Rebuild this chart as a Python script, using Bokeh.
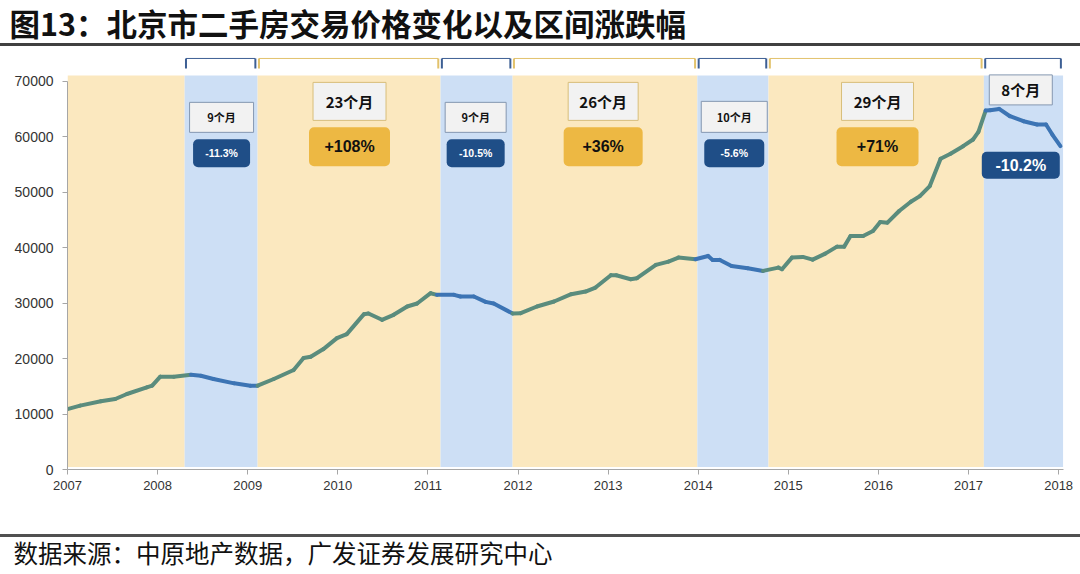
from bokeh.plotting import figure
from bokeh.models import Range1d, FixedTicker, BasicTickFormatter, Title
from bokeh.core.properties import value
from bokeh.embed import file_html
from bokeh.resources import INLINE

# ---------------- data ----------------
title_text = "图13：北京市二手房交易价格变化以及区间涨跌幅"
source_text = "数据来源：中原地产数据，广发证券发展研究中心"

dates = [2007.01, 2007.14, 2007.37, 2007.53, 2007.66, 2007.88, 2007.94,
         2008.03, 2008.18, 2008.37, 2008.48, 2008.62, 2008.85,
         2009.03, 2009.11, 2009.29, 2009.51, 2009.62, 2009.70, 2009.84, 2009.99,
         2010.10, 2010.29, 2010.34, 2010.49, 2010.62, 2010.77, 2010.88,
         2011.03, 2011.10, 2011.29, 2011.36, 2011.51, 2011.64, 2011.73, 2011.94,
         2012.03, 2012.21, 2012.40, 2012.59, 2012.75, 2012.86,
         2013.03, 2013.09, 2013.25, 2013.32, 2013.53, 2013.67, 2013.78, 2013.97,
         2014.11, 2014.16, 2014.24, 2014.37, 2014.55, 2014.72, 2014.89, 2014.93,
         2015.04, 2015.16, 2015.27, 2015.41, 2015.54, 2015.62, 2015.69, 2015.83, 2015.94,
         2016.02, 2016.10, 2016.23, 2016.36, 2016.46, 2016.57, 2016.69, 2016.80, 2016.94,
         2017.05, 2017.11, 2017.19, 2017.24, 2017.34, 2017.46, 2017.61, 2017.76, 2017.86, 2017.93,
         2018.02]

prices = [10930, 11520, 12300, 12720, 13620, 14820, 15120,
          16740, 16740, 17100, 16920, 16320, 15540,
          15120, 15120, 16320, 17940, 20100, 20340, 21720, 23700,
          24420, 28020, 28140, 27000, 27900, 29400, 29940,
          31800, 31500, 31500, 31200, 31200, 30240, 29940, 28140,
          28200, 29400, 30300, 31620, 32100, 32820,
          35040, 35040, 34320, 34500, 36900, 37500, 38220, 37920,
          38520, 37800, 37800, 36720, 36300, 35820, 36420, 36120,
          38220, 38340, 37860, 38940, 40200, 40200, 42120, 42120, 43020,
          44640, 44520, 46620, 48300, 49320, 51120, 56040, 56940, 58320,
          59520, 60900, 64740, 64800, 65040, 63720, 62820, 62220, 62220, 60420,
          58320]

band_start = [2007.00, 2008.30, 2009.11, 2011.14, 2011.94, 2013.99, 2014.78, 2017.17]
band_end = [2008.30, 2009.11, 2011.14, 2011.94, 2013.99, 2014.78, 2017.17, 2018.05]
band_kind = ["up", "down", "up", "down", "up", "down", "up", "down"]

period_labels = ["9个月", "23个月", "9个月", "26个月", "10个月", "29个月", "8个月"]
change_labels = ["-11.3%", "+108%", "-10.5%", "+36%", "-5.6%", "+71%", "-10.2%"]

year_ticks = list(range(2007, 2019))
price_ticks = list(range(0, 70001, 10000))

# ---------------- style / layout ----------------
W, H = 1080, 574
FRAME_TOP = 45                      # px from top of canvas
FRAME_BOTTOM = 469
PX = 179.95                         # price units per pixel
Y_TOP = (FRAME_BOTTOM - FRAME_TOP) * PX

YELLOW_BAND = "#FBE8BF"
BLUE_BAND = "#CDDFF5"
LINE_UP = "#5A8C7D"
LINE_DOWN = "#3C74B4"
BOX_BLUE = "#1F4E87"
BOX_GOLD = "#EDB843"
BR_BLUE = "#3D5F94"
BR_GOLD = "#E2C26C"

lab_x = [2008.71, 2010.13, 2011.53, 2012.945, 2014.40, 2015.99, 2017.58]
per_y = [63520, 66400, 63520, 66400, 63610, 66400, 68470]
per_w = [64, 73, 61, 70, 66, 72, 63]
per_h = [30, 38, 30, 38, 31, 38, 30]
per_fs = ["11px", "15px", "11px", "15px", "11px", "15px", "15px"]
chg_y = [57040, 58210, 57040, 58210, 57040, 58210, 54880]
chg_w = [57, 81, 58, 79, 60, 82, 78]
chg_h = [28, 39, 28, 39, 28, 39, 27]
chg_fs = ["10.5px", "16px", "10.5px", "16px", "10.5px", "16px", "16px"]

# page rules (decoration behind the transparent canvas)
rules_css = ("linear-gradient(to bottom, #ffffff 0px, #ffffff 43px, #404040 43px, #404040 46px, "
             "#ffffff 46px, #ffffff 534px, #505050 534px, #505050 537px, #ffffff 537px, #ffffff 100%)")

p = figure(width=W, height=H, x_range=Range1d(2007, 2018.054), y_range=Range1d(0, Y_TOP),
           output_backend="svg", toolbar_location=None,
           min_border_left=67, min_border_right=17, min_border_top=FRAME_TOP,
           min_border_bottom=H - FRAME_BOTTOM)
p.outline_line_color = None
p.grid.visible = False
p.background_fill_color = None
p.border_fill_color = None
p.styles = {"background": rules_css}

p.quad(left=band_start, right=band_end, bottom=450, top=71080,
       fill_color=[YELLOW_BAND if k == "up" else BLUE_BAND for k in band_kind],
       line_color=None)

bx0, bx1, by0, by1, bcol, bw = [], [], [], [], [], []
for s, e, k in list(zip(band_start, band_end, band_kind))[1:]:
    c = BR_GOLD if k == "up" else BR_BLUE
    l, r = s + 0.015, e - 0.025
    bx0 += [l, l, r]; bx1 += [r, l, r]
    by0 += [74140, 74140, 74140]; by1 += [74140, 72340, 72340]
    bcol += [c, c, c]; bw += [1, 2, 2]
p.segment(x0=bx0, y0=by0, x1=bx1, y1=by1, line_color=bcol, line_width=bw)

def kind_at(x):
    for s, e, k in zip(band_start, band_end, band_kind):
        if s <= x < e:
            return k
    return band_kind[-1]

seg_col = [LINE_UP if kind_at((a + b) / 2) == "up" else LINE_DOWN
           for a, b in zip(dates[:-1], dates[1:])]
p.segment(x0=dates[:-1], y0=prices[:-1], x1=dates[1:], y1=prices[1:],
          line_color=seg_col, line_width=4, line_cap="round")

kinds = band_kind[1:]
for i in range(len(period_labels)):
    down = kinds[i] == "down"
    p.rect(x=[lab_x[i]], y=[per_y[i]], width=per_w[i], height=per_h[i],
           width_units="screen", height_units="screen",
           fill_color="#F2F2F2", line_color="#8497B0" if down else "#D8BE7A", line_width=1)
    p.text(x=[lab_x[i]], y=[per_y[i]], text=[period_labels[i]],
           text_font=value("Noto Sans CJK SC"), text_font_style="bold",
           text_font_size=per_fs[i], text_color="#111111",
           text_align="center", text_baseline="middle")
    p.rect(x=[lab_x[i]], y=[chg_y[i]], width=chg_w[i], height=chg_h[i],
           width_units="screen", height_units="screen", border_radius=5,
           fill_color=BOX_BLUE if down else BOX_GOLD, line_color=None)
    p.text(x=[lab_x[i]], y=[chg_y[i]], text=[change_labels[i]],
           text_font=value("Liberation Sans"), text_font_style="bold",
           text_font_size=chg_fs[i], text_color="white" if down else "#111111",
           text_align="center", text_baseline="middle")

p.xaxis.ticker = FixedTicker(ticks=year_ticks)
p.xaxis.formatter = BasicTickFormatter(use_scientific=False)
p.xaxis.major_label_text_font = "Liberation Sans"
p.xaxis.major_label_text_font_size = "13px"
p.xaxis.major_label_standoff = 6
p.yaxis.ticker = FixedTicker(ticks=price_ticks)
p.yaxis.formatter = BasicTickFormatter(use_scientific=False)
p.yaxis.bounds = (0, 70000)
p.yaxis.major_label_text_font = "Liberation Sans"
p.yaxis.major_label_text_font_size = "14px"
p.yaxis.major_label_standoff = 9
for ax in (p.xaxis, p.yaxis):
    ax.axis_line_color = "#A6A6A6"
    ax.major_tick_line_color = "#A6A6A6"
    ax.major_tick_out = 5
    ax.major_tick_in = 0
    ax.minor_tick_line_color = None
    ax.major_label_text_color = "#333333"

# ---------------- title (above, fills the top border) ----------------
p.add_layout(Title(text=title_text, align="left", offset=-58, standoff=0,
                   vertical_align="top",
                   text_font="Noto Sans CJK SC", text_font_style="bold",
                   text_font_size="30.5px", text_color="#111111"), "above")

# ---------------- source (below): blank gap, then the text ----------------
p.add_layout(Title(text=" ", standoff=39, text_font_size="1px"), "below")
p.add_layout(Title(text=source_text, align="left", offset=-54, standoff=0,
                   vertical_align="top",
                   text_font="Noto Sans CJK SC", text_font_style="normal",
                   text_font_size="24.5px", text_color="#111111"), "below")

open("out.html", "w").write(file_html(p, INLINE))
